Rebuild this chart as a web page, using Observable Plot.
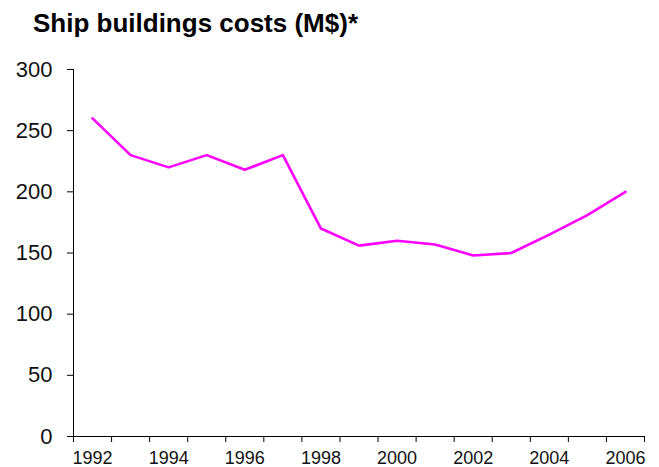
<!DOCTYPE html>
<html><head><meta charset="utf-8">
<script src="https://cdn.jsdelivr.net/npm/d3@7"></script>
<script src="https://cdn.jsdelivr.net/npm/@observablehq/plot@0.6"></script>
<style>
body{margin:0;background:#fff;font-family:Arial,"Liberation Sans",sans-serif;}
#title{height:50px;box-sizing:border-box;padding-left:33px;padding-top:8px;font-weight:bold;font-size:26px;line-height:30px;color:#000;white-space:nowrap;}
</style></head><body>
<div id="title">Ship buildings costs (M$)*</div>
<div id="chart"></div>
<script>
const years = [1992,1993,1994,1995,1996,1997,1998,1999,2000,2001,2002,2003,2004,2005,2006];
const costs = [260,230,220,230,218,230,170,156,160,157,148,150,165,181,200];
const yTicks = [0,50,100,150,200,250,300];
const xLabels = [1992,1994,1996,1998,2000,2002,2004,2006];

const data = years.map((y, i) => ({year: y, cost: costs[i]}));
const bounds = years.map(y => y - 0.5).concat([years[years.length - 1] + 0.5]);
const x0 = bounds[0], x1 = bounds[bounds.length - 1];

const chart = Plot.plot({
  width: 659,
  height: 417,
  marginTop: 19,
  marginBottom: 31,
  marginLeft: 73,
  marginRight: 15,
  style: {fontFamily: "Arial, 'Liberation Sans', sans-serif", fontSize: "18px", color: "#111", background: "#fff"},
  x: {type: "linear", domain: [x0, x1]},
  y: {type: "linear", domain: [0, 300]},
  marks: [
    Plot.axisY(yTicks, {tickSize: 6, tickPadding: 15, fontSize: 22, tickFormat: d => String(d), label: null, stroke: "#000"}),
    Plot.axisX(bounds, {tickSize: 6, tickFormat: () => "", label: null, stroke: "#000"}),
    Plot.axisX(xLabels, {tickSize: 0, tickPadding: 15, fontSize: 18, tickFormat: d => String(d), label: null}),
    Plot.ruleX([x0], {y1: 0, y2: 300, stroke: "#000", strokeWidth: 1}),
    Plot.ruleY([0], {x1: x0, x2: x1, stroke: "#000", strokeWidth: 1}),
    Plot.line(data, {x: "year", y: "cost", stroke: "#ff00ff", strokeWidth: 2.6})
  ]
});
document.getElementById("chart").appendChild(chart);
</script>
</body></html>
